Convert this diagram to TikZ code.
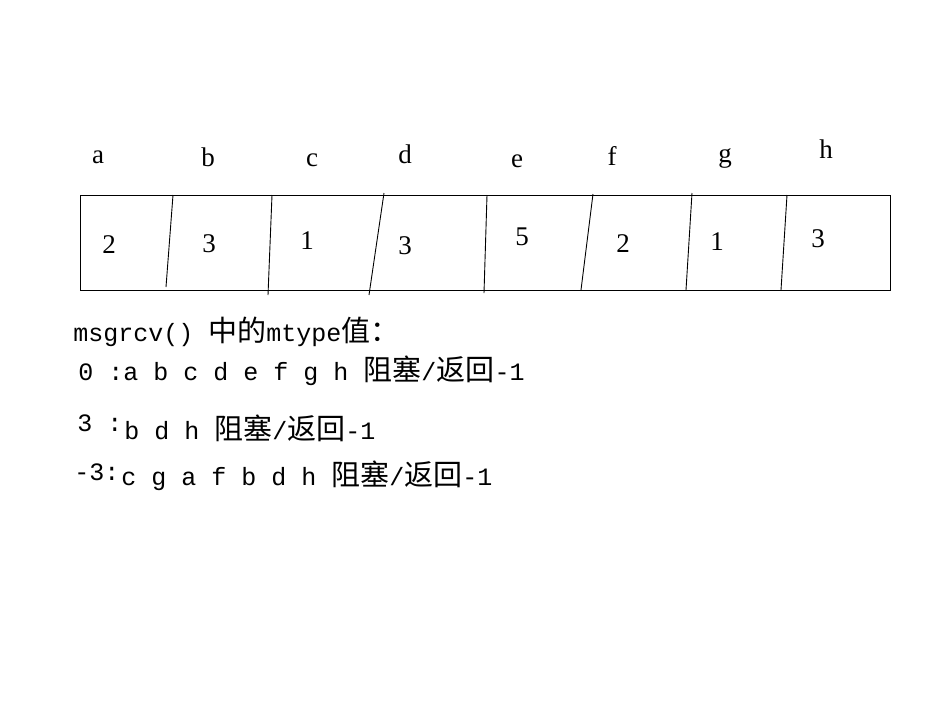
\documentclass[tikz,border=0pt]{standalone}
\usepackage{fontspec}
\setmainfont{Liberation Serif}
\newfontfamily\monofont{Liberation Mono}
\newfontfamily\cjk{Noto Sans CJK SC}
\newcommand\zh[1]{{\cjk\fontsize{29}{30}\selectfont #1}}
\begin{document}
\begin{tikzpicture}[x=1pt,y=-1pt,line width=0.9pt,
    cell/.style={font=\fontsize{27}{30}\selectfont,anchor=base,inner sep=0pt},
    txt/.style={font=\monofont\fontsize{25}{30}\selectfont,anchor=base west,inner sep=0pt}]
  \useasboundingbox (0,0) rectangle (936,716);
  % the queue
  \draw (80,195) rectangle (890,290);
  \foreach \xa/\ya/\xb/\yb in {173/195/166/287, 272/195/268/295, 384/193/369/295,
                               487/195/484/293, 593/194/581/290, 692/193/686/290,
                               787/195/781/290}
    {\draw (\xa,\ya) -- (\xb,\yb);}
  \foreach \l/\x/\y/\v/\vx/\vy in {a/98/163/2/109/253, b/208/166/3/209/252,
                                   c/312/166/1/307/249, d/405/163/3/405/254,
                                   e/517/167/5/522/245, f/612/165/2/623/252,
                                   g/725/162/1/717/250, h/826/158/3/818/247}
    {\node[cell] (lab\l) at (\x,\y) {\l};
     \node[cell] (num\l) at (\vx,\vy) {\v};}
  % mtype
  \node[txt] (title) at (73,341) {msgrcv() \zh{中的}mtype\zh{值：}};
  \node[txt] (mt0) at (78,380) {0 :a b c d e f g h \zh{阻塞}/\zh{返回}-1};
  \node[txt] (p3) at (77,431) {3 :};
  \node[txt] (mt3) at (124,439) {b d h \zh{阻塞}/\zh{返回}-1};
  \node[txt] (p4) at (74,480) {-3:};
  \node[txt] (mt4) at (121,485) {c g a f b d h \zh{阻塞}/\zh{返回}-1};
\end{tikzpicture}
\end{document}
